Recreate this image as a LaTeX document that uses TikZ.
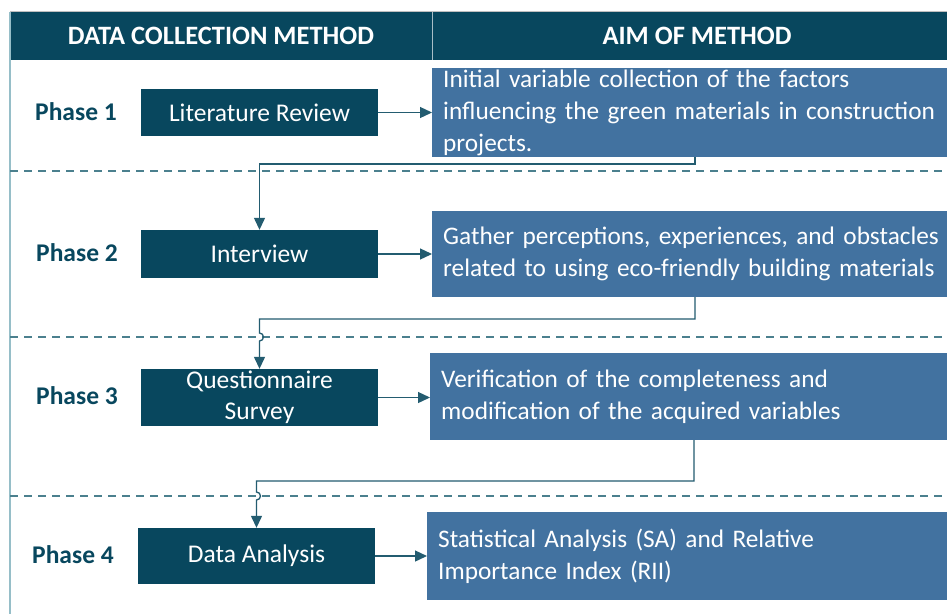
\documentclass[tikz,border=0pt]{standalone}
\usepackage{fontspec}
\setmainfont{Carlito}
\usetikzlibrary{arrows.meta}
\definecolor{headteal}{RGB}{8,71,94}
\definecolor{aimblue}{RGB}{66,114,160}
\definecolor{linkteal}{RGB}{35,92,112}
\definecolor{septeal}{RGB}{75,128,142}
\definecolor{edgeteal}{RGB}{150,190,200}

\begin{document}
\begin{tikzpicture}[x=1pt, y=-1pt,
	head/.style={text=white, font=\fontsize{26.5}{30}\selectfont\bfseries},
	phase/.style={text=headteal, font=\fontsize{25.5}{30}\selectfont\bfseries},
	method/.style={fill=headteal, text=white, minimum width=237pt, inner sep=0pt, align=center, font=\fontsize{25.5}{31}\selectfont},
	aim/.style={fill=aimblue, text=white, anchor=west, text width=520pt, inner xsep=11pt, inner ysep=0pt, align=left, font=\fontsize{25.3}{32}\selectfont},
	link/.style={draw=linkteal, line width=1.3pt},
	arrow/.style={link, -{Triangle[length=12pt, width=11pt]}},
	sep/.style={draw=septeal, line width=1.2pt, dash pattern=on 8pt off 6pt}]
	\path[use as bounding box] (0,0) rectangle (947,614);
	\clip (0,0) rectangle (947,614);
	\fill[white] (0,0) rectangle (947,614);

	\fill[headteal] (10,12) rectangle (947,60);
	\draw[black!25] (10,11) -- (947,11);
	\draw[edgeteal, line width=1.2pt] (10,12) -- (10,614);
	\draw[white!65!headteal, line width=1pt] (432,12) -- (432,60);
	\node[head] (hmeth) at (221,36) {DATA COLLECTION METHOD};
	\node[head] (haim) at (697,36) {AIM OF METHOD};

	\foreach \y in {171,337,496}
		\draw[sep] (10,\y) -- (947,\y);

	\node[phase] (p1) at (76,112) {Phase 1};
	\node[phase] (p2) at (77,253) {Phase 2};
	\node[phase] (p3) at (77,396) {Phase 3};
	\node[phase] (p4) at (73,555) {Phase 4};

	\node[method, minimum height=47pt] (lit) at (259.5,112.5) {Literature Review};
	\node[method, minimum height=48pt] (int) at (259.5,254) {Interview};
	\node[method, minimum height=57pt] (quest) at (259.5,397.5) {Questionnaire\\Survey};
	\node[method, minimum height=56pt] (dana) at (256.5,556) {Data Analysis};

	\node[aim, minimum height=89pt] (a1) at (432,112.5) {Initial variable collection of the factors\\influencing the green materials in construction\\projects.};
	\node[aim, minimum height=86pt] (a2) at (432,254) {Gather perceptions, experiences, and obstacles\\related to using eco-friendly building materials};
	\node[aim, minimum height=87pt] (a3) at (430,396.5) {Verification of the completeness and\\modification of the acquired variables};
	\node[aim, minimum height=88pt] (a4) at (427,556) {Statistical Analysis (SA) and Relative\\Importance Index (RII)};

	\draw[arrow] (lit.east) -- (lit.east -| a1.west);
	\draw[arrow] (int.east) -- (int.east -| a2.west);
	\draw[arrow] (quest.east) -- (quest.east -| a3.west);
	\draw[arrow] (dana.east) -- (dana.east -| a4.west);

	\coordinate (k1) at (695,164);
	\coordinate (k2) at (695,319);
	\coordinate (k3) at (694,481);
	\draw[arrow] (a1.south west -| k1) -- (k1) -| (int.north);
	\draw[arrow] (a2.south west -| k2) -- (k2) -- (k2 -| quest.north) -- ++(0,14) arc[start angle=-90, end angle=90, radius=4] -- (quest.north);
	\draw[arrow] (a3.south west -| k3) -- (k3) -- (k3 -| dana.north) -- ++(0,11) arc[start angle=-90, end angle=90, radius=4] -- (dana.north);
\end{tikzpicture}
\end{document}
